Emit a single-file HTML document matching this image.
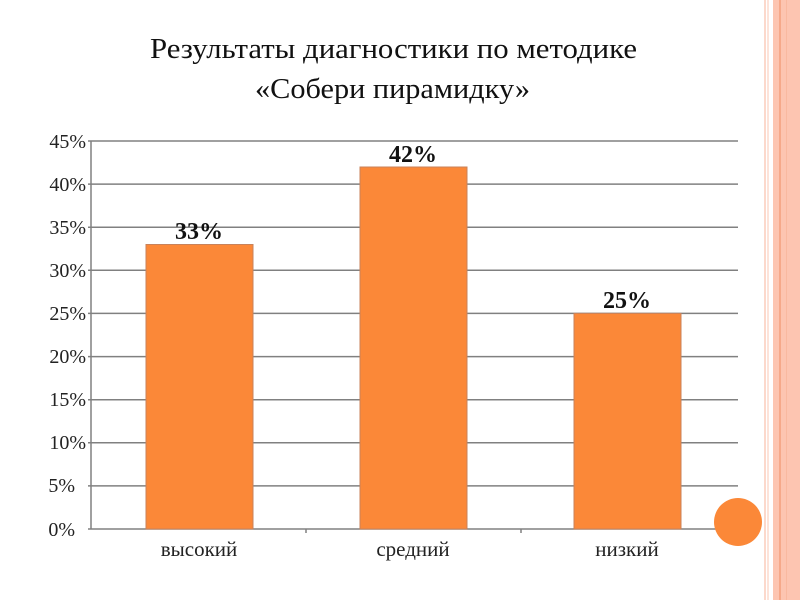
<!DOCTYPE html>
<html><head><meta charset="utf-8"><style>
body{margin:0;width:800px;height:600px;background:#fff;overflow:hidden;position:relative;font-family:"Liberation Serif",serif}
</style></head><body>
<div style="position:absolute;left:764px;top:0;width:2px;height:600px;background:#fcd9cc"></div>
<div style="position:absolute;left:767px;top:0;width:2px;height:600px;background:#fde3d9"></div>
<div style="position:absolute;left:773px;top:0;width:27px;height:600px;background:#fdc5b1"></div>
<div style="position:absolute;left:779px;top:0;width:2px;height:600px;background:#f6a98a"></div>
<div style="position:absolute;left:786px;top:0;width:1px;height:600px;background:#f9b9a0"></div>
<svg width="800" height="600" style="position:absolute;left:0;top:0">
<text x="150" y="58" font-size="28" textLength="487" lengthAdjust="spacingAndGlyphs" fill="#111">Результаты диагностики по методике</text>
<text x="255" y="98" font-size="28" textLength="275" lengthAdjust="spacingAndGlyphs" fill="#111">«Собери пирамидку»</text>
<g stroke="#808080" stroke-width="1.5">
<line x1="88" y1="141" x2="738" y2="141"/>
<line x1="88" y1="184.1" x2="738" y2="184.1"/>
<line x1="88" y1="227.2" x2="738" y2="227.2"/>
<line x1="88" y1="270.3" x2="738" y2="270.3"/>
<line x1="88" y1="313.4" x2="738" y2="313.4"/>
<line x1="88" y1="356.6" x2="738" y2="356.6"/>
<line x1="88" y1="399.7" x2="738" y2="399.7"/>
<line x1="88" y1="442.8" x2="738" y2="442.8"/>
<line x1="88" y1="485.9" x2="738" y2="485.9"/>
<line x1="88" y1="529" x2="738" y2="529"/>
<line x1="91" y1="141" x2="91" y2="529"/>
<line x1="306" y1="529" x2="306" y2="533"/>
<line x1="521" y1="529" x2="521" y2="533"/>
</g>
<g fill="#fb8838" stroke="#c8825a" stroke-width="1">
<rect x="146" y="244.5" width="107" height="284.5"/>
<rect x="360" y="167" width="107" height="362"/>
<rect x="574" y="313.4" width="107" height="215.6"/>
</g>
<g font-size="20" text-anchor="end" fill="#222">
<text x="86" y="148">45%</text><text x="86" y="191">40%</text><text x="86" y="234">35%</text>
<text x="86" y="277">30%</text><text x="86" y="320">25%</text><text x="86" y="363">20%</text>
<text x="86" y="406">15%</text><text x="86" y="449">10%</text><text x="75" y="492">5%</text>
<text x="75" y="536">0%</text></g>
<g font-size="24" font-weight="bold" text-anchor="middle" fill="#111">
<text x="199" y="239">33%</text><text x="413" y="162">42%</text><text x="627" y="308">25%</text></g>
<g font-size="21" text-anchor="middle" fill="#222">
<text x="199" y="556">высокий</text><text x="413" y="556">средний</text><text x="627" y="556">низкий</text></g>
<circle cx="738" cy="522" r="24" fill="#fb8838"/>
</svg>
</body></html>
